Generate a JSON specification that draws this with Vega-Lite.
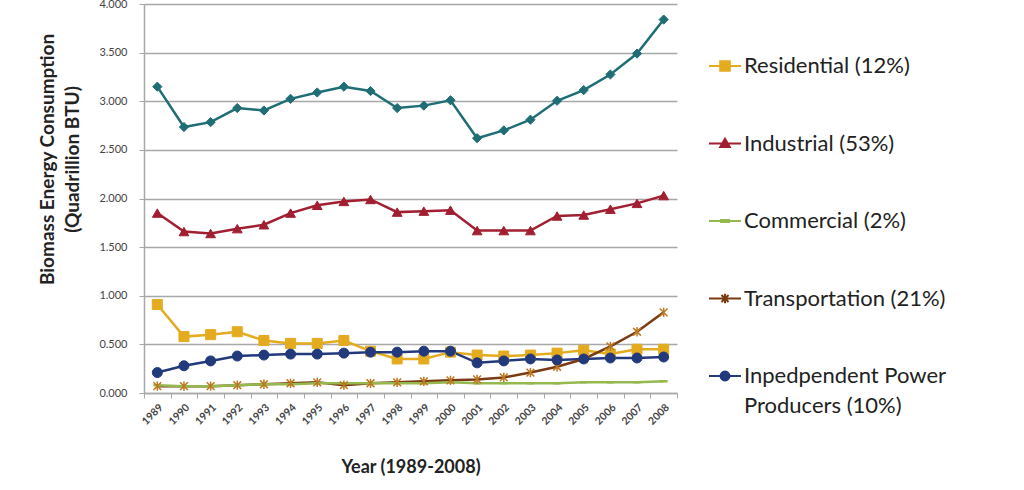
{
  "$schema": "https://vega.github.io/schema/vega-lite/v6.json",
  "width": 533,
  "height": 389,
  "autosize": {"type": "none"},
  "padding": {"left": 144, "top": 4, "right": 347, "bottom": 97},
  "background": "white",
  "config": {
    "font": "Lato",
    "view": {"stroke": null},
    "axis": {"labelFont": "Lato", "titleFont": "Lato", "domainColor": "#a8a8a8", "tickColor": "#a8a8a8", "gridColor": "#a8a8a8"}
  },
  "data": {
    "values": [
      {"year": "1989", "series": "Total", "value": 3.15},
      {"year": "1990", "series": "Total", "value": 2.735},
      {"year": "1991", "series": "Total", "value": 2.785},
      {"year": "1992", "series": "Total", "value": 2.93},
      {"year": "1993", "series": "Total", "value": 2.905},
      {"year": "1994", "series": "Total", "value": 3.025},
      {"year": "1995", "series": "Total", "value": 3.09},
      {"year": "1996", "series": "Total", "value": 3.15},
      {"year": "1997", "series": "Total", "value": 3.105},
      {"year": "1998", "series": "Total", "value": 2.93},
      {"year": "1999", "series": "Total", "value": 2.955},
      {"year": "2000", "series": "Total", "value": 3.01},
      {"year": "2001", "series": "Total", "value": 2.62},
      {"year": "2002", "series": "Total", "value": 2.7},
      {"year": "2003", "series": "Total", "value": 2.81},
      {"year": "2004", "series": "Total", "value": 3.005},
      {"year": "2005", "series": "Total", "value": 3.115},
      {"year": "2006", "series": "Total", "value": 3.275},
      {"year": "2007", "series": "Total", "value": 3.49},
      {"year": "2008", "series": "Total", "value": 3.84},

      {"year": "1989", "series": "Industrial (53%)", "value": 1.85},
      {"year": "1990", "series": "Industrial (53%)", "value": 1.66},
      {"year": "1991", "series": "Industrial (53%)", "value": 1.64},
      {"year": "1992", "series": "Industrial (53%)", "value": 1.69},
      {"year": "1993", "series": "Industrial (53%)", "value": 1.73},
      {"year": "1994", "series": "Industrial (53%)", "value": 1.85},
      {"year": "1995", "series": "Industrial (53%)", "value": 1.93},
      {"year": "1996", "series": "Industrial (53%)", "value": 1.97},
      {"year": "1997", "series": "Industrial (53%)", "value": 1.99},
      {"year": "1998", "series": "Industrial (53%)", "value": 1.86},
      {"year": "1999", "series": "Industrial (53%)", "value": 1.87},
      {"year": "2000", "series": "Industrial (53%)", "value": 1.88},
      {"year": "2001", "series": "Industrial (53%)", "value": 1.67},
      {"year": "2002", "series": "Industrial (53%)", "value": 1.67},
      {"year": "2003", "series": "Industrial (53%)", "value": 1.67},
      {"year": "2004", "series": "Industrial (53%)", "value": 1.82},
      {"year": "2005", "series": "Industrial (53%)", "value": 1.83},
      {"year": "2006", "series": "Industrial (53%)", "value": 1.89},
      {"year": "2007", "series": "Industrial (53%)", "value": 1.95},
      {"year": "2008", "series": "Industrial (53%)", "value": 2.03},

      {"year": "1989", "series": "Residential (12%)", "value": 0.91},
      {"year": "1990", "series": "Residential (12%)", "value": 0.58},
      {"year": "1991", "series": "Residential (12%)", "value": 0.6},
      {"year": "1992", "series": "Residential (12%)", "value": 0.63},
      {"year": "1993", "series": "Residential (12%)", "value": 0.54},
      {"year": "1994", "series": "Residential (12%)", "value": 0.51},
      {"year": "1995", "series": "Residential (12%)", "value": 0.51},
      {"year": "1996", "series": "Residential (12%)", "value": 0.54},
      {"year": "1997", "series": "Residential (12%)", "value": 0.43},
      {"year": "1998", "series": "Residential (12%)", "value": 0.35},
      {"year": "1999", "series": "Residential (12%)", "value": 0.35},
      {"year": "2000", "series": "Residential (12%)", "value": 0.42},
      {"year": "2001", "series": "Residential (12%)", "value": 0.39},
      {"year": "2002", "series": "Residential (12%)", "value": 0.38},
      {"year": "2003", "series": "Residential (12%)", "value": 0.39},
      {"year": "2004", "series": "Residential (12%)", "value": 0.41},
      {"year": "2005", "series": "Residential (12%)", "value": 0.44},
      {"year": "2006", "series": "Residential (12%)", "value": 0.4},
      {"year": "2007", "series": "Residential (12%)", "value": 0.45},
      {"year": "2008", "series": "Residential (12%)", "value": 0.45},

      {"year": "1989", "series": "Inpedpendent Power Producers (10%)", "value": 0.21},
      {"year": "1990", "series": "Inpedpendent Power Producers (10%)", "value": 0.28},
      {"year": "1991", "series": "Inpedpendent Power Producers (10%)", "value": 0.33},
      {"year": "1992", "series": "Inpedpendent Power Producers (10%)", "value": 0.38},
      {"year": "1993", "series": "Inpedpendent Power Producers (10%)", "value": 0.39},
      {"year": "1994", "series": "Inpedpendent Power Producers (10%)", "value": 0.4},
      {"year": "1995", "series": "Inpedpendent Power Producers (10%)", "value": 0.4},
      {"year": "1996", "series": "Inpedpendent Power Producers (10%)", "value": 0.41},
      {"year": "1997", "series": "Inpedpendent Power Producers (10%)", "value": 0.42},
      {"year": "1998", "series": "Inpedpendent Power Producers (10%)", "value": 0.42},
      {"year": "1999", "series": "Inpedpendent Power Producers (10%)", "value": 0.43},
      {"year": "2000", "series": "Inpedpendent Power Producers (10%)", "value": 0.43},
      {"year": "2001", "series": "Inpedpendent Power Producers (10%)", "value": 0.31},
      {"year": "2002", "series": "Inpedpendent Power Producers (10%)", "value": 0.33},
      {"year": "2003", "series": "Inpedpendent Power Producers (10%)", "value": 0.35},
      {"year": "2004", "series": "Inpedpendent Power Producers (10%)", "value": 0.34},
      {"year": "2005", "series": "Inpedpendent Power Producers (10%)", "value": 0.35},
      {"year": "2006", "series": "Inpedpendent Power Producers (10%)", "value": 0.36},
      {"year": "2007", "series": "Inpedpendent Power Producers (10%)", "value": 0.36},
      {"year": "2008", "series": "Inpedpendent Power Producers (10%)", "value": 0.37},

      {"year": "1989", "series": "Transportation (21%)", "value": 0.07},
      {"year": "1990", "series": "Transportation (21%)", "value": 0.07},
      {"year": "1991", "series": "Transportation (21%)", "value": 0.07},
      {"year": "1992", "series": "Transportation (21%)", "value": 0.08},
      {"year": "1993", "series": "Transportation (21%)", "value": 0.09},
      {"year": "1994", "series": "Transportation (21%)", "value": 0.1},
      {"year": "1995", "series": "Transportation (21%)", "value": 0.11},
      {"year": "1996", "series": "Transportation (21%)", "value": 0.08},
      {"year": "1997", "series": "Transportation (21%)", "value": 0.1},
      {"year": "1998", "series": "Transportation (21%)", "value": 0.11},
      {"year": "1999", "series": "Transportation (21%)", "value": 0.12},
      {"year": "2000", "series": "Transportation (21%)", "value": 0.13},
      {"year": "2001", "series": "Transportation (21%)", "value": 0.14},
      {"year": "2002", "series": "Transportation (21%)", "value": 0.16},
      {"year": "2003", "series": "Transportation (21%)", "value": 0.21},
      {"year": "2004", "series": "Transportation (21%)", "value": 0.27},
      {"year": "2005", "series": "Transportation (21%)", "value": 0.35},
      {"year": "2006", "series": "Transportation (21%)", "value": 0.48},
      {"year": "2007", "series": "Transportation (21%)", "value": 0.63},
      {"year": "2008", "series": "Transportation (21%)", "value": 0.83},

      {"year": "1989", "series": "Commercial (2%)", "value": 0.08},
      {"year": "1990", "series": "Commercial (2%)", "value": 0.07},
      {"year": "1991", "series": "Commercial (2%)", "value": 0.07},
      {"year": "1992", "series": "Commercial (2%)", "value": 0.08},
      {"year": "1993", "series": "Commercial (2%)", "value": 0.09},
      {"year": "1994", "series": "Commercial (2%)", "value": 0.09},
      {"year": "1995", "series": "Commercial (2%)", "value": 0.1},
      {"year": "1996", "series": "Commercial (2%)", "value": 0.1},
      {"year": "1997", "series": "Commercial (2%)", "value": 0.1},
      {"year": "1998", "series": "Commercial (2%)", "value": 0.1},
      {"year": "1999", "series": "Commercial (2%)", "value": 0.1},
      {"year": "2000", "series": "Commercial (2%)", "value": 0.11},
      {"year": "2001", "series": "Commercial (2%)", "value": 0.1},
      {"year": "2002", "series": "Commercial (2%)", "value": 0.1},
      {"year": "2003", "series": "Commercial (2%)", "value": 0.1},
      {"year": "2004", "series": "Commercial (2%)", "value": 0.1},
      {"year": "2005", "series": "Commercial (2%)", "value": 0.11},
      {"year": "2006", "series": "Commercial (2%)", "value": 0.11},
      {"year": "2007", "series": "Commercial (2%)", "value": 0.11},
      {"year": "2008", "series": "Commercial (2%)", "value": 0.12}
    ]
  },
  "encoding": {
    "x": {
      "field": "year", "type": "ordinal",
      "scale": {"type": "band", "paddingInner": 0, "paddingOuter": 0},
      "axis": {
        "title": "Year (1989-2008)",
        "titleFontSize": 18, "titleFontWeight": "bold", "titleColor": "#222222", "titlePadding": 32,
        "labelAngle": -45, "labelFontSize": 10.5, "labelFontWeight": "bold", "labelColor": "#444444",
        "labelPadding": 4, "tickBand": "extent", "tickSize": 5, "grid": false, "domainWidth": 1.5
      }
    },
    "y": {
      "field": "value", "type": "quantitative",
      "scale": {"domain": [0, 4], "nice": false},
      "axis": {
        "values": [0, 0.5, 1, 1.5, 2, 2.5, 3, 3.5, 4],
        "format": ".3f",
        "title": ["Biomass Energy Consumption", "(Quadrillion BTU)"],
        "titleFontSize": 19, "titleFontWeight": "bold", "titleColor": "#222222",
        "titleLineHeight": 25, "titleBaseline": "middle", "titleX": -97, "titleY": 155, "titleAngle": -90,
        "labelFontSize": 11, "labelColor": "#444444", "labelPadding": 12, "tickSize": 5,
        "gridWidth": 1.5, "domainWidth": 1.5
      }
    },
    "color": {
      "field": "series", "type": "nominal",
      "scale": {
        "domain": ["Total", "Residential (12%)", "Industrial (53%)", "Commercial (2%)", "Transportation (21%)", "Inpedpendent Power Producers (10%)"],
        "range": ["#1f6e75", "#e4ab1f", "#a11f31", "#95b84f", "#7a3a12", "#22397c"]
      },
      "legend": {
        "values": ["Residential (12%)", "Industrial (53%)", "Commercial (2%)", "Transportation (21%)", "Inpedpendent Power Producers (10%)"],
        "title": null, "orient": "none", "legendX": 564, "legendY": 45, "padding": 0,
        "symbolSize": 1024, "symbolStrokeWidth": 2, "rowPadding": 49.5,
        "labelFont": "Lato", "labelFontSize": 22, "labelColor": "#222222", "labelOffset": 2, "labelLimit": 320,
        "labelExpr": "datum.label == 'Inpedpendent Power Producers (10%)' ? ['Inpedpendent Power', 'Producers (10%)'] : datum.label",
        "encode": {
          "symbols": {
            "update": {
              "shape": {"signal": "datum.value == 'Residential (12%)' ? 'M-1,0H1M-0.3,-0.3H0.3V0.3H-0.3Z' : datum.value == 'Industrial (53%)' ? 'M-1,0H1M0,-0.3L0.3,0.22L-0.3,0.22Z' : datum.value == 'Commercial (2%)' ? 'M-1,0H1M-0.25,-0.06H0.25V0.06H-0.25Z' : datum.value == 'Transportation (21%)' ? 'M-1,0H1M-0.22,-0.22L0.22,0.22M-0.22,0.22L0.22,-0.22M0,-0.3V0.3' : 'M-1,0H1M0.28,0A0.28,0.28 0 1,1 -0.28,0A0.28,0.28 0 1,1 0.28,0Z'"},
              "fill": {"signal": "scale('color', datum.value)"},
              "stroke": {"signal": "scale('color', datum.value)"},
              "strokeWidth": {"value": 2},
              "opacity": {"value": 1},
              "fillOpacity": {"value": 1},
              "strokeOpacity": {"value": 1}
            }
          },
          "labels": {
            "update": {
              "lineHeight": {"value": 30}
            }
          }
        }
      }
    }
  },
  "layer": [
    {
      "mark": {"type": "line", "strokeWidth": 2.5}
    },
    {
      "transform": [{"filter": "datum.series == 'Total'"}],
      "mark": {"type": "point", "filled": true, "opacity": 1, "shape": "diamond", "size": 85, "stroke": "#1f6e75", "strokeWidth": 1}
    },
    {
      "transform": [{"filter": "datum.series == 'Industrial (53%)'"}],
      "mark": {"type": "point", "filled": true, "opacity": 1, "shape": "triangle-up", "size": 95, "stroke": "#a11f31", "strokeWidth": 1}
    },
    {
      "transform": [{"filter": "datum.series == 'Residential (12%)'"}],
      "mark": {"type": "point", "filled": true, "opacity": 1, "shape": "square", "size": 100, "stroke": "#e4ab1f", "strokeWidth": 1}
    },
    {
      "transform": [{"filter": "datum.series == 'Commercial (2%)'"}],
      "mark": {"type": "point", "filled": true, "opacity": 1, "shape": "M-1,-0.2H1V0.2H-1Z", "size": 50, "stroke": "#95b84f", "strokeWidth": 1}
    },
    {
      "transform": [{"filter": "datum.series == 'Transportation (21%)'"}],
      "mark": {"type": "point", "filled": true, "opacity": 1, "shape": "M-1,-1L1,1M-1,1L1,-1M0,-1.2V1.2", "size": 60, "stroke": "#c0781f", "strokeWidth": 1.5}
    },
    {
      "transform": [{"filter": "datum.series == 'Inpedpendent Power Producers (10%)'"}],
      "mark": {"type": "point", "filled": true, "opacity": 1, "shape": "circle", "size": 100, "stroke": "#22397c", "strokeWidth": 1}
    }
  ]
}
